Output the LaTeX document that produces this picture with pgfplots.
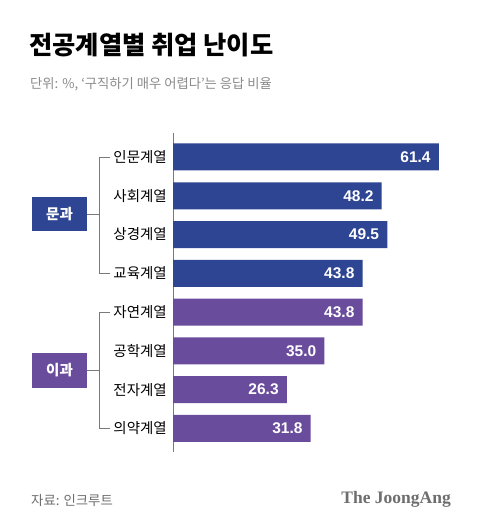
\documentclass[border=0pt]{standalone}
\usepackage{pgfplots}
\pgfplotsset{compat=1.18}
\usepackage{fontspec}
\setmainfont{Noto Sans CJK KR}
\newfontfamily\numfont{Liberation Sans}
\newfontfamily\logofont{Liberation Serif}
\definecolor{mblue}{HTML}{2E4593}
\definecolor{mpurple}{HTML}{6A4C9C}
\definecolor{subgray}{HTML}{8A8A8A}
\definecolor{footgray}{HTML}{6E6E6E}
\definecolor{linegray}{HTML}{7A7A7A}
\begin{document}
\begin{tikzpicture}[x=1pt,y=1pt]
\fill[white] (0,0) rectangle (480,528);
\useasboundingbox (0,0) rectangle (480,528);
% titles
\node[anchor=west,inner sep=0pt,font=\fontsize{25.3}{25.3}\selectfont\bfseries] at (29,483) {전공계열별 취업 난이도};
\node[anchor=west,inner sep=0pt,text=subgray,font=\fontsize{13.3}{13.3}\selectfont] at (30,444) {단위: \%, ‘구직하기 매우 어렵다’는 응답 비율};
\node[anchor=west,inner sep=0pt,text=footgray,font=\fontsize{13.4}{13.4}\selectfont] at (31,28) {자료: 인크루트};
\node[anchor=east,inner sep=0pt,text=footgray,font=\fontsize{17.5}{17.5}\logofont\bfseries] at (451,29) {The JoongAng};
\begin{axis}[
  at={(173pt,395pt)}, anchor=north west,
  scale only axis, width=303pt, height=319pt,
  xmin=0, xmax=70, ymin=-0.619, ymax=7.61,
  y dir=reverse,
  xbar, bar width=27pt, bar shift=0pt,
  hide x axis,
  axis y line*=left,
  y axis line style={linegray, line width=0.9pt, -},
  ytick={0,...,7},
  yticklabels={인문계열,사회계열,상경계열,교육계열,자연계열,공학계열,전자계열,의약계열},
  major tick length=0pt,
  yticklabel style={font=\fontsize{14.5}{14.5}\selectfont, inner sep=0pt, xshift=-6pt},
  point meta=explicit symbolic,
  nodes near coords,
  every node near coord/.append style={anchor=east, xshift=-8pt, inner sep=0pt, text=white, font=\fontsize{15.5}{15.5}\numfont\bfseries},
  clip=false,
]
\addplot[draw=none, fill=mblue] coordinates {(61.4,0) [61.4] (48.2,1) [48.2] (49.5,2) [49.5] (43.8,3) [43.8]};
\addplot[draw=none, fill=mpurple] coordinates {(43.8,4) [43.8] (35.0,5) [35.0] (26.3,6) [26.3] (31.8,7) [31.8]};
\end{axis}
% group brackets
\draw[linegray, line width=0.8pt] (110,371) -- (99,371) -- (99,254.7) -- (110,254.7);
\draw[linegray, line width=0.8pt] (87,314) -- (99,314);
\fill[mblue] (32,297) rectangle (87,331);
\node[text=white,font=\fontsize{14.5}{14.5}\selectfont\bfseries] at (59.5,314) {문과};
\draw[linegray, line width=0.8pt] (110,215.7) -- (99,215.7) -- (99,99.7) -- (110,99.7);
\draw[linegray, line width=0.8pt] (87,158) -- (99,158);
\fill[mpurple] (32,140) rectangle (87,175);
\node[text=white,font=\fontsize{14.5}{14.5}\selectfont\bfseries] at (59.5,157.5) {이과};
\end{tikzpicture}
\end{document}
